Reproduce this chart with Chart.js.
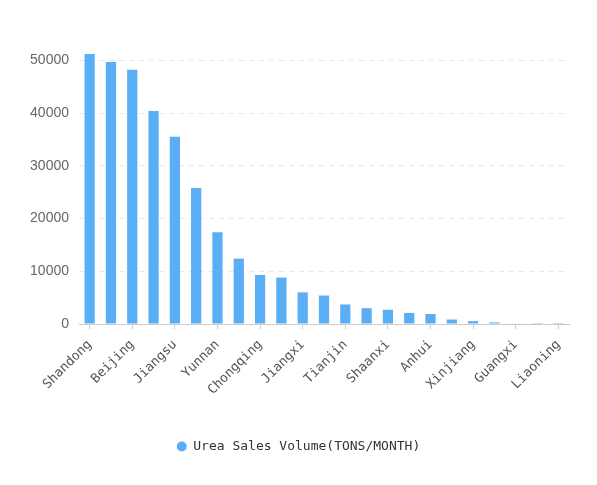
<!DOCTYPE html>
<html>
<head>
<meta charset="utf-8">
<script src="https://cdn.jsdelivr.net/npm/chart.js@4/dist/chart.umd.min.js"></script>
<style>
  html, body { margin: 0; padding: 0; background: #fff; }
  #wrap { width: 597px; height: 485px; }
</style>
</head>
<body>
<div id="wrap"><canvas id="c" width="597" height="485"></canvas></div>
<script>
const categories = ["Shandong","Hebei","Beijing","Henan","Jiangsu","Zhejiang","Yunnan","Sichuan","Chongqing","Guangdong","Jiangxi","Hubei","Tianjin","Shanxi","Shaanxi","Hunan","Anhui","Fujian","Xinjiang","Gansu","Guangxi","Ningxia","Liaoning"];
const salesVolume = [51200,49700,48200,40400,35500,25800,17400,12400,9300,8800,6000,5400,3700,3000,2700,2100,1900,850,550,300,80,30,20];
const seriesName = "Urea Sales Volume(TONS/MONTH)";
const yTickValues = [0, 10000, 20000, 30000, 40000, 50000];

new Chart(document.getElementById('c'), {
  type: 'bar',
  data: {
    labels: categories,
    datasets: [{
      label: seriesName,
      data: salesVolume,
      backgroundColor: 'rgb(90,174,246)',
      borderWidth: 0,
      categoryPercentage: 1,
      barPercentage: 0.48
    }]
  },
  options: {
    responsive: false,
    animation: false,
    devicePixelRatio: 1,
    layout: { padding: { top: 34, right: 28, bottom: 22, left: 28 } },
    plugins: {
      tooltip: { enabled: false },
      legend: {
        position: 'bottom',
        labels: {
          usePointStyle: true,
          pointStyle: 'circle',
          boxWidth: 10,
          boxHeight: 7,
          pointStyleWidth: 10,
          padding: 10,
          color: '#333',
          font: { family: 'DejaVu Sans Mono', size: 13 }
        }
      }
    },
    scales: {
      x: {
        offset: true,
        grid: {
          offset: false,
          drawOnChartArea: false,
          tickLength: 5,
          color: ctx => (ctx.index % 2 === 0 ? '#ccc' : 'rgba(0,0,0,0)')
        },
        border: { color: '#ccc' },
        ticks: {
          autoSkip: false,
          maxRotation: 45,
          minRotation: 45,
          padding: 8,
          color: '#555',
          font: { family: 'DejaVu Sans Mono', size: 13 },
          callback: function(v, i) { return i % 2 === 0 ? this.getLabelForValue(v) : ''; }
        },
        afterFit: s => { s.height = 106; }
      },
      y: {
        type: 'linear',
        min: 0,
        max: 55000,
        grid: {
          color: ctx => (ctx.tick && ctx.tick.value === 0 ? 'rgba(0,0,0,0)' : '#e6e6e6'),
          drawTicks: false
        },
        border: { display: false, dash: [5, 5] },
        ticks: {
          autoSkip: false,
          padding: 10,
          color: '#666',
          font: { family: 'Liberation Sans', size: 14 },
          callback: v => String(v)
        },
        afterBuildTicks: axis => { axis.ticks = yTickValues.map(v => ({ value: v })); },
        afterFit: s => { s.width = 51; }
      }
    }
  }
});
</script>
</body>
</html>
